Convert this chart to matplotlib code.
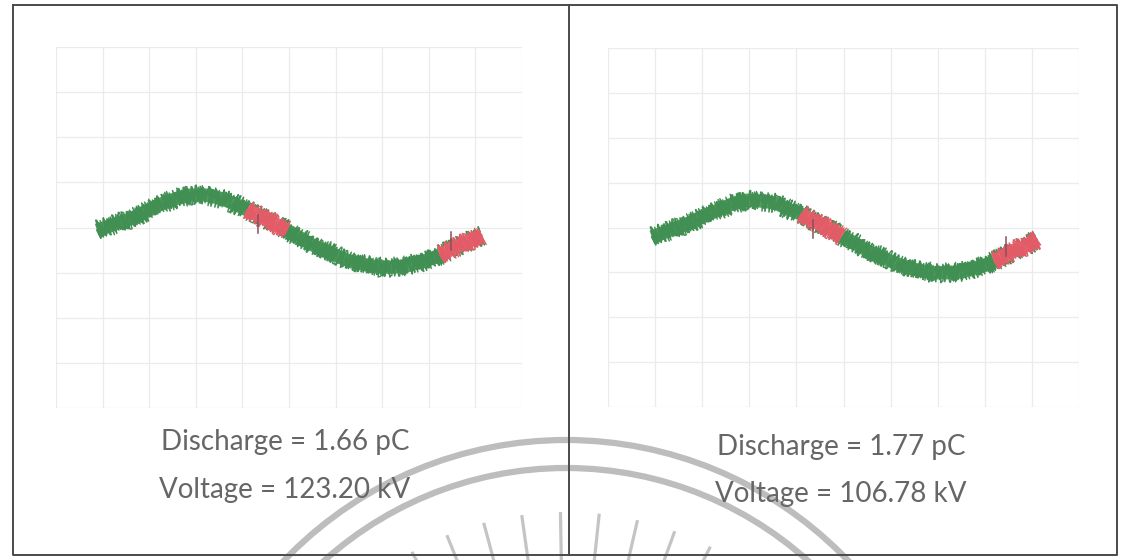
import math
import matplotlib
matplotlib.use("Agg")
import matplotlib.pyplot as plt
from matplotlib.patches import Arc

# ---------------- data (grid divisions: x 0..10, y -4..4) ----------------
left_x = [0.88, 1.22, 1.59, 1.95, 2.30, 2.60, 2.88, 3.20, 3.52, 3.80, 4.10, 4.31, 4.53, 4.74, 4.96,
          5.24, 5.51, 5.82, 6.09, 6.37, 6.67, 6.95, 7.23, 7.53, 7.81, 8.03, 8.24, 8.45, 8.67, 8.91, 9.14]
left_y = [-0.06, 0.06, 0.19, 0.36, 0.54, 0.65, 0.72, 0.72, 0.65, 0.54, 0.39, 0.28, 0.17, 0.06, -0.06,
          -0.23, -0.39, -0.52, -0.66, -0.77, -0.83, -0.88, -0.88, -0.85, -0.77, -0.70, -0.61, -0.50, -0.39, -0.28, -0.17]
left_red = [(4.10, 4.96), (8.24, 9.14)]
left_spike_x = [4.33, 8.48]
left_spike_base = [0.28, -0.50]
left_spike_tip = [-0.12, -0.10]

right_x = [0.93, 1.27, 1.63, 2.00, 2.34, 2.63, 2.95, 3.23, 3.55, 3.82, 4.10, 4.31, 4.52, 4.76, 4.97,
           5.24, 5.52, 5.82, 6.09, 6.37, 6.67, 6.94, 7.22, 7.52, 7.79, 8.00, 8.20, 8.43, 8.64, 8.87, 9.11]
right_y = [-0.21, -0.08, 0.06, 0.23, 0.39, 0.52, 0.61, 0.59, 0.55, 0.41, 0.30, 0.17, 0.06, -0.06, -0.19,
           -0.35, -0.52, -0.66, -0.79, -0.90, -0.97, -1.01, -1.01, -0.99, -0.90, -0.84, -0.75, -0.63, -0.50, -0.41, -0.26]
right_red = [(4.10, 4.97), (8.20, 9.11)]
right_spike_x = [4.35, 8.45]
right_spike_base = [0.17, -0.63]
right_spike_tip = [-0.23, -0.21]

labels_left = ["Discharge = 1.66 pC", "Voltage = 123.20 kV"]
labels_right = ["Discharge = 1.77 pC", "Voltage = 106.78 kV"]

W, H = 1122, 560
GREEN = "#4f9e5e"
GREEN_D = "#428f53"
RED = "#ee6a74"
RED_D = "#e25c68"
GRID = "#ebebeb"
TEXT = "#666666"

fig = plt.figure(figsize=(W / 100, H / 100), dpi=100)
fig.patch.set_facecolor("white")

# overlay in pixel coordinates for frame & watermark
ov = fig.add_axes([0, 0, 1, 1])
ov.set_xlim(0, W)
ov.set_ylim(H, 0)
ov.axis("off")

# watermark seal (scan artifact)
wm = "#bdbdbd"
cx, cy = 566, 830
ov.add_patch(Arc((cx, cy), 2 * 390, 2 * 390, theta1=180, theta2=360, color=wm, lw=4.5, zorder=1))
ov.add_patch(Arc((cx, cy), 2 * 362, 2 * 362, theta1=180, theta2=360, color=wm, lw=4.5, zorder=1))
for ang in range(-36, 37, 7):
    a = math.radians(ang)
    r1, r2 = 318, 240
    ov.plot([cx + r1 * math.sin(a), cx + r2 * math.sin(a)],
            [cy - r1 * math.cos(a), cy - r2 * math.cos(a)],
            color="#c4c4c4", lw=2.3, solid_capstyle="butt", zorder=1)

# frame
fc = "#4a4a4a"
ov.plot([13, 1117, 1117, 13, 13], [5, 5, 555, 555, 5], color=fc, lw=1.4, zorder=3)
ov.plot([569, 569], [5, 555], color=fc, lw=1.4, zorder=3)


def band(ax, xs, ys, col, dcol, z):
    ax.plot(xs, ys, color=col, lw=9.5, solid_capstyle="butt", solid_joinstyle="round", zorder=z)
    for sc, ln, rnd in [(10, 1.0, 3), (9, 0.8, 5), (8, 1.4, 7)]:
        ln_ = ax.plot(xs, ys, color=dcol, lw=1.0, zorder=z + 0.5)[0]
        ln_.set_sketch_params(scale=sc, length=ln, randomness=rnd)


def panel(x0, x1, y0, y1, xs, ys, reds, sx, sb, st, labels, tx, ty):
    ax = fig.add_axes([x0 / W, 1 - y1 / H, (x1 - x0) / W, (y1 - y0) / H])
    ax.set_xlim(0, 10)
    ax.set_ylim(-4, 4)
    ax.axis("off")
    for gx in range(11):
        ax.axvline(gx, color=GRID, lw=0.9, zorder=0)
    for gy in range(-4, 5):
        ax.axhline(gy, color=GRID, lw=0.9, zorder=0)
    band(ax, xs, ys, GREEN, GREEN_D, 2)
    for a, b in reds:
        px = [x for x in xs if a <= x <= b]
        py = [y for x, y in zip(xs, ys) if a <= x <= b]
        band(ax, px, py, RED, RED_D, 4)
    for x, b, t in zip(sx, sb, st):
        ax.plot([x, x], [b, t], color="#8a5058", lw=1.1, zorder=6)
    for lab, yy in zip(labels, ty):
        fig.text(tx / W, 1 - yy / H, lab, ha="center", va="baseline",
                 fontsize=20, color=TEXT, family=["Lato", "DejaVu Sans"], zorder=10)


panel(56, 522, 47, 408, left_x, left_y, left_red, left_spike_x, left_spike_base, left_spike_tip,
      labels_left, 285, [450, 498])
panel(608, 1079, 48, 407, right_x, right_y, right_red, right_spike_x, right_spike_base, right_spike_tip,
      labels_right, 841, [455, 502])

fig.savefig("out.png", dpi=100, facecolor="white")
